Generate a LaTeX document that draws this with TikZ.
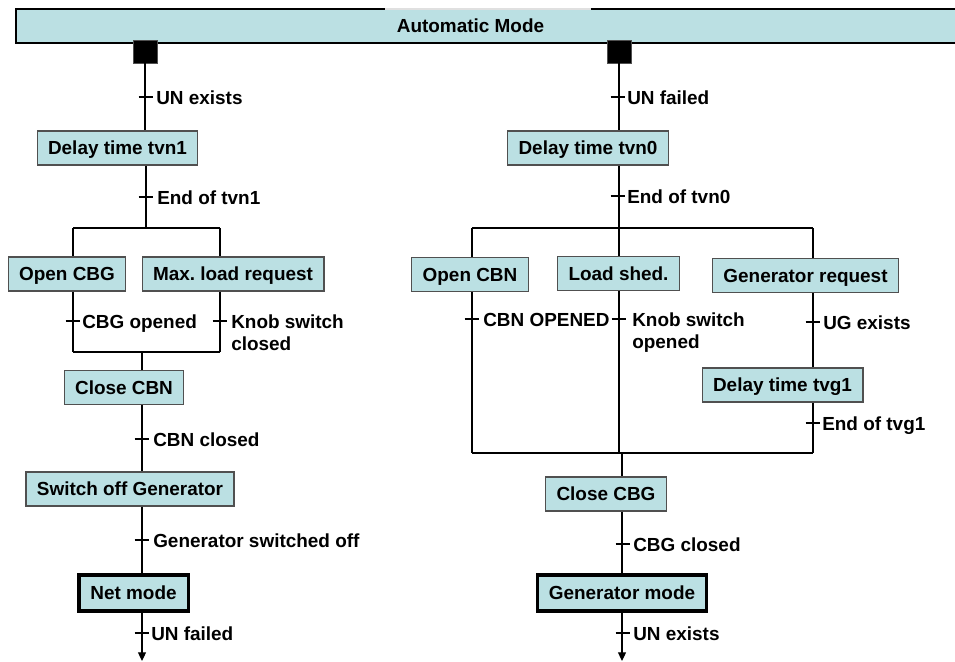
\documentclass[tikz,border=0pt]{standalone}
\usepackage{fontspec}
\setmainfont{Liberation Sans}
\usetikzlibrary{arrows.meta}
\frenchspacing
\definecolor{boxfill}{RGB}{187,224,227}
\definecolor{boxline}{RGB}{80,80,80}
\tikzset{
  boxfont/.style={font=\bfseries\fontsize{14.2}{16.5}\selectfont},
  stepbox/.style={draw=boxline, line width=0.9pt, fill=boxfill, inner xsep=8.2pt,
    inner ysep=0pt, text height=10.2pt, text depth=0pt, minimum height=25.5pt, boxfont},
  modebox/.style={stepbox, draw=black, line width=2.4pt, minimum height=27pt, inner xsep=8.6pt},
  flow/.style={draw=black, line width=0.8pt},
  endarrow/.style={flow, -{Triangle[length=6.5pt,width=6pt]}},
  cond/.style={anchor=base west, inner sep=0pt, align=left, boxfont},
  initsq/.style={fill=black, draw=boxline, line width=0.5pt, minimum width=18pt,
    minimum height=17.2pt, inner sep=0pt},
}
% transition mark: a short bar across the flow line
\newcommand{\trmark}[1]{\draw[flow] ([xshift=-5.5pt]#1) -- ([xshift=5.5pt]#1);}
\begin{document}
\begin{tikzpicture}[x=0.75pt, y=-0.75pt]
\useasboundingbox (0,0) rectangle (955,661);

% top state bar
\fill[boxfill] (16,9) rectangle (955,43);
\draw[line width=1.4pt] (955,43) -- (16,43) -- (16,9) -- (385,9);
\draw[line width=0.9pt] (591,9) -- (955,9);
\draw[line width=0.9pt, black!12] (385,9) -- (591,9);
\node[boxfont, text height=10.2pt, text depth=0pt, inner sep=0pt] (auto) at (470.5,26) {Automatic Mode};

% initial steps
\node[initsq] (sqA) at (145,51.5) {};
\node[initsq] (sqB) at (619,51.5) {};

% ---------------- left branch ----------------
\node[stepbox] (tvn1) at (117.5,148) {Delay time tvn1};
\node[stepbox] (ocbg) at (67,274) {Open CBG};
\node[stepbox] (maxl) at (233,274) {Max. load request};
\node[stepbox] (ccbn) at (124,387.5) {Close CBN};
\node[stepbox] (swoff) at (130,489) {Switch off Generator};
\node[modebox] (netm) at (133.5,593) {Net mode};

\coordinate (Ls) at (146,228);
\coordinate (Lsa) at (73,228);
\coordinate (Lsb) at (220,228);
\coordinate (Lja) at (73,352);
\coordinate (Ljb) at (220,352);
\coordinate (Lj) at (142,352);
\coordinate (Lend) at (142,661);

\draw[flow] (sqA.south) -- (sqA.south |- tvn1.north);
\draw[flow] (Ls |- tvn1.south) -- (Ls);
\draw[flow] (Lsa) -- (Lsb);
\draw[flow] (Lsa) -- (Lsa |- ocbg.north);
\draw[flow] (Lsb) -- (Lsb |- maxl.north);
\draw[flow] (Lsa |- ocbg.south) -- (Lja);
\draw[flow] (Lsb |- maxl.south) -- (Ljb);
\draw[flow] (Lja) -- (Ljb);
\draw[flow] (Lj) -- (Lj |- ccbn.north);
\draw[flow] (Lj |- ccbn.south) -- (Lj |- swoff.north);
\draw[flow] (Lj |- swoff.south) -- (Lj |- netm.north);
\draw[endarrow] (Lj |- netm.south) -- (Lend);

\trmark{146,97}
\node[cond] (cA1) at (156,104) {UN exists};
\trmark{146,197}
\node[cond] (cA2) at (157,204) {End of tvn1};
\trmark{73,321}
\node[cond] (cA3) at (82,328) {CBG opened};
\trmark{220,321}
\node[cond] (cA4) at (231,350) {Knob switch\\closed};
\trmark{142,439}
\node[cond] (cA5) at (153,446) {CBN closed};
\trmark{142,540}
\node[cond] (cA6) at (153,547) {Generator switched off};
\trmark{142,633}
\node[cond] (cA7) at (151,640) {UN failed};

% ---------------- right branch ----------------
\node[stepbox] (tvn0) at (588,148) {Delay time tvn0};
\node[stepbox] (ocbn) at (470,274.5) {Open CBN};
\node[stepbox] (lshed) at (618.5,273.5) {Load shed.};
\node[stepbox] (genreq) at (805.5,275.5) {Generator request};
\node[stepbox] (tvg1) at (782.5,385) {Delay time tvg1};
\node[stepbox] (ccbg) at (606,494) {Close CBG};
\node[modebox] (genm) at (622,593) {Generator mode};

\coordinate (Rs) at (619,228);
\coordinate (Rsa) at (472,228);
\coordinate (Rsc) at (813,228);
\coordinate (Rja) at (472,453);
\coordinate (Rjb) at (619,453);
\coordinate (Rjc) at (813,453);
\coordinate (Rj) at (622,453);
\coordinate (Rend) at (622,661);

\draw[flow] (sqB.south) -- (sqB.south |- tvn0.north);
\draw[flow] (Rs |- tvn0.south) -- (Rs);
\draw[flow] (Rsa) -- (Rsc);
\draw[flow] (Rsa) -- (Rsa |- ocbn.north);
\draw[flow] (Rs) -- (Rs |- lshed.north);
\draw[flow] (Rsc) -- (Rsc |- genreq.north);
\draw[flow] (Rsa |- ocbn.south) -- (Rja);
\draw[flow] (Rs |- lshed.south) -- (Rjb);
\draw[flow] (Rsc |- genreq.south) -- (Rsc |- tvg1.north);
\draw[flow] (Rsc |- tvg1.south) -- (Rjc);
\draw[flow] (Rja) -- (Rjc);
\draw[flow] (Rj) -- (Rj |- ccbg.north);
\draw[flow] (Rj |- ccbg.south) -- (Rj |- genm.north);
\draw[endarrow] (Rj |- genm.south) -- (Rend);

\trmark{618,97}
\node[cond] (cB1) at (627,104) {UN failed};
\trmark{618,196}
\node[cond] (cB2) at (627,203) {End of tvn0};
\trmark{472,319}
\node[cond] (cB3) at (483,326) {CBN OPENED};
\trmark{619,319}
\node[cond] (cB4) at (632,348) {Knob switch\\opened};
\trmark{813,322}
\node[cond] (cB5) at (823,329) {UG exists};
\trmark{813,423}
\node[cond] (cB6) at (822,430) {End of tvg1};
\trmark{623,544}
\node[cond] (cB7) at (633,551) {CBG closed};
\trmark{623,633}
\node[cond] (cB8) at (633,640) {UN exists};
\end{tikzpicture}
\end{document}
